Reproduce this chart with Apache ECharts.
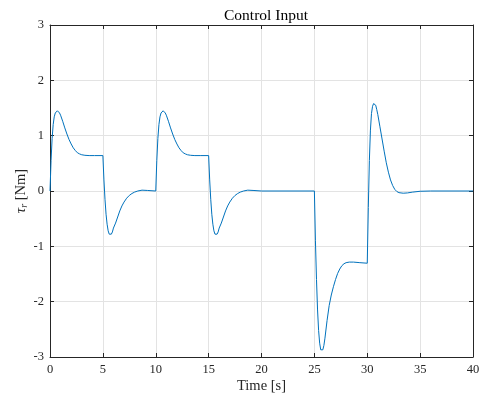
<!DOCTYPE html>
<html>
<head>
<meta charset="utf-8">
<script src="https://cdn.jsdelivr.net/npm/echarts@6/dist/echarts.min.js"></script>
<style>html,body{margin:0;padding:0;background:#fff;overflow:hidden;}#c{width:480px;height:398px;}</style>
</head>
<body>
<div id="c"></div>
<script>
// Time samples [s]
var timeS = [
  0, 0.1, 0.2, 0.3, 0.4, 0.5, 0.6, 0.7, 0.8, 0.9, 1.0, 1.2, 1.4, 1.6, 1.8, 2.0, 2.2, 2.4, 2.6, 2.8, 3.0, 3.3, 3.7, 4.2, 5.0,
  5.1, 5.2, 5.3, 5.4, 5.5, 5.6, 5.7, 5.8, 5.9, 6.0, 6.2, 6.4, 6.6, 6.8, 7.0, 7.25, 7.5, 7.75, 8.0, 8.3, 8.7, 9.2, 10.0,
  10.1, 10.2, 10.3, 10.4, 10.5, 10.6, 10.7, 10.8, 10.9, 11.0, 11.2, 11.4, 11.6, 11.8, 12.0, 12.2, 12.4, 12.6, 12.8, 13.0, 13.3, 13.7, 14.2, 15.0,
  15.1, 15.2, 15.3, 15.4, 15.5, 15.6, 15.7, 15.8, 15.9, 16.0, 16.2, 16.4, 16.6, 16.8, 17.0, 17.25, 17.5, 17.75, 18.0, 18.3, 18.7, 19.2, 20.0,
  25.0,
  25.1, 25.2, 25.3, 25.4, 25.5, 25.6, 25.7, 25.8, 25.9, 26.0, 26.2, 26.4, 26.6, 26.8, 27.0, 27.2, 27.4, 27.6, 27.8, 28.0, 28.3, 28.7, 29.3, 30.0,
  30.1, 30.2, 30.3, 30.4, 30.5, 30.6, 30.7, 30.8, 30.9, 31.0, 31.2, 31.4, 31.6, 31.8, 32.0, 32.2, 32.4, 32.6, 32.8, 33.0, 33.4, 33.8, 34.3, 35.0, 36.0,
  40.0
];
// Control input torque tau_r [Nm]
var torqueNm = [
  0, 0.55, 0.95, 1.2, 1.34, 1.41, 1.44, 1.45, 1.44, 1.41, 1.37, 1.26, 1.14, 1.03, 0.93, 0.85, 0.78, 0.73, 0.69, 0.67, 0.655, 0.645, 0.64, 0.64, 0.64,
  0.2, -0.15, -0.42, -0.6, -0.72, -0.78, -0.795, -0.78, -0.74, -0.67, -0.58, -0.47, -0.36, -0.27, -0.2, -0.13, -0.08, -0.045, -0.02, 0.0, 0.015, 0.01, 0.0,
  0.55, 0.95, 1.2, 1.34, 1.41, 1.44, 1.45, 1.44, 1.41, 1.37, 1.26, 1.14, 1.03, 0.93, 0.85, 0.78, 0.73, 0.69, 0.67, 0.655, 0.645, 0.64, 0.64, 0.64,
  0.2, -0.15, -0.42, -0.6, -0.72, -0.78, -0.795, -0.78, -0.74, -0.67, -0.58, -0.47, -0.36, -0.27, -0.2, -0.13, -0.08, -0.045, -0.02, 0.0, 0.015, 0.01, 0.0,
  0.0,
  -0.9, -1.6, -2.15, -2.52, -2.75, -2.87, -2.9, -2.87, -2.79, -2.66, -2.34, -2.07, -1.88, -1.73, -1.6, -1.49, -1.41, -1.35, -1.315, -1.295, -1.285, -1.285, -1.295, -1.305,
  -0.3, 0.55, 1.1, 1.4, 1.53, 1.58, 1.585, 1.55, 1.47, 1.38, 1.16, 0.94, 0.72, 0.51, 0.34, 0.2, 0.1, 0.03, -0.01, -0.03, -0.04, -0.035, -0.02, -0.005, 0.0,
  0.0
];
var xTicks = [0, 5, 10, 15, 20, 25, 30, 35, 40];
var yTicks = [-3, -2, -1, 0, 1, 2, 3];

var seriesData = timeS.map(function (t, i) { return [t, torqueNm[i]]; });
var FONT = 'Liberation Serif';
var axisCol = '#262626';
var gridCol = '#e3e3e3';

var chart = echarts.init(document.getElementById('c'), null, { renderer: 'canvas' });
function xAx(pos, show) {
  return {
    type: 'value', position: pos, min: xTicks[0], max: xTicks[xTicks.length - 1], interval: 5,
    axisLine: { show: true, onZero: false, lineStyle: { color: axisCol, width: 1 } },
    axisTick: { show: true, inside: true, length: 4, lineStyle: { color: axisCol } },
    axisLabel: { show: show, color: axisCol, fontFamily: FONT, fontSize: 12.5, margin: 6 },
    splitLine: { show: show, lineStyle: { color: gridCol, width: 1 } },
    name: show ? 'Time [s]' : '', nameLocation: 'middle', nameGap: 22, nameMoveOverlap: false,
    nameTextStyle: { color: axisCol, fontFamily: FONT, fontSize: 14.5 }
  };
}
function yAx(pos, show) {
  return {
    type: 'value', position: pos, min: yTicks[0], max: yTicks[yTicks.length - 1], interval: 1,
    axisLine: { show: true, onZero: false, lineStyle: { color: axisCol, width: 1 } },
    axisTick: { show: true, inside: true, length: 4, lineStyle: { color: axisCol } },
    axisLabel: { show: show, color: axisCol, fontFamily: FONT, fontSize: 12.5, margin: 6,
      formatter: function (v) { return String(v); } },
    splitLine: { show: show, lineStyle: { color: gridCol, width: 1 } },
    name: show ? '{t|τ}{s|r} [Nm]' : '', nameLocation: 'middle', nameGap: 21, nameMoveOverlap: false,
    nameTextStyle: { color: axisCol, fontFamily: FONT, fontSize: 14.5,
      rich: { t: { fontFamily: FONT, fontSize: 15, fontStyle: 'italic', color: axisCol },
              s: { fontFamily: FONT, fontSize: 10, fontStyle: 'italic', color: axisCol, verticalAlign: 'bottom' } } }
  };
}
chart.setOption({
  animation: false,
  backgroundColor: '#ffffff',
  title: {
    text: 'Control Input', left: 261, top: 3, textAlign: 'center',
    textStyle: { fontFamily: FONT, fontSize: 15.5, fontWeight: 'normal', color: '#000' }
  },
  grid: { left: 50, right: 7, top: 25, bottom: 41, containLabel: false, outerBoundsMode: 'none' },
  xAxis: [xAx('bottom', true), xAx('top', false)],
  yAxis: [yAx('left', true), yAx('right', false)],
  series: [{
    type: 'line', xAxisIndex: 0, yAxisIndex: 0, data: seriesData,
    showSymbol: false, smooth: false,
    lineStyle: { color: '#0072BD', width: 1 }
  }]
});
</script>
</body>
</html>
